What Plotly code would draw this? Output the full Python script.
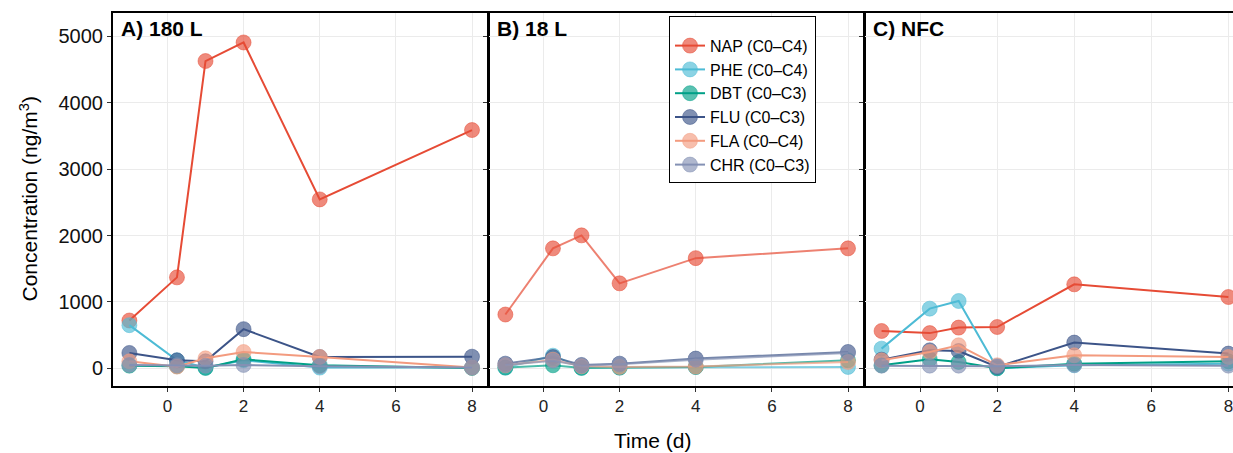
import plotly.graph_objects as go

time = [-1, 0.25, 1, 2, 4, 8]
series = ["NAP (C0–C4)", "PHE (C0–C4)", "DBT (C0–C3)", "FLU (C0–C3)", "FLA (C0–C4)", "CHR (C0–C3)"]
colors = ["#E64B35", "#4DBBD5", "#00A087", "#3C5488", "#F39B7F", "#8491B4"]
panels = ["A) 180 L", "B) 18 L", "C) NFC"]

# panel A (180 L)
a_nap = [720, 1370, 4630, 4910, 2545, 3590]
a_phe = [650, 120, 10, 120, 10, 10]
a_dbt = [40, 30, 5, 135, 45, 5]
a_flu = [231, 120, 105, 590, 170, 175]
a_fla = [105, 25, 150, 245, 170, 10]
a_chr = [50, 45, 40, 50, 30, 10]

# panel B (18 L)
b_nap = [810, 1807, 2003, 1280, 1660, 1807]
b_phe = [10, 190, 10, 10, 20, 20]
b_dbt = [10, 45, 5, 10, 20, 120]
b_flu = [70, 170, 50, 70, 146, 246]
b_fla = [45, 130, 30, 20, 25, 95]
b_chr = [50, 115, 40, 60, 130, 230]

# panel C (NFC)
c_nap = [562, 530, 613, 622, 1265, 1074]
c_phe = [296, 899, 1014, 0, 45, 70]
c_dbt = [45, 136, 95, 0, 70, 105]
c_flu = [130, 271, 260, 20, 387, 221]
c_fla = [120, 246, 346, 45, 196, 170]
c_chr = [40, 40, 40, 30, 50, 40]

data = [
    [a_nap, a_phe, a_dbt, a_flu, a_fla, a_chr],
    [b_nap, b_phe, b_dbt, b_flu, b_fla, b_chr],
    [c_nap, c_phe, c_dbt, c_flu, c_fla, c_chr],
]
line_alpha = [1.0, 0.7, 1.0]


def rgba(hexc, a):
    h = hexc.lstrip("#")
    r, g, b = int(h[0:2], 16), int(h[2:4], 16), int(h[4:6], 16)
    return f"rgba({r},{g},{b},{a})"


fig = go.Figure()
for p in range(3):
    xa = "x" if p == 0 else f"x{p+1}"
    ya = "y" if p == 0 else f"y{p+1}"
    for i, name in enumerate(series):
        fig.add_trace(go.Scatter(
            x=time, y=data[p][i], name=name, legendgroup=name,
            showlegend=(p == 0), mode="lines+markers",
            line=dict(color=rgba(colors[i], line_alpha[p]), width=2),
            marker=dict(size=15, color=rgba(colors[i], 0.65),
                        line=dict(color=rgba(colors[i], 0.5), width=1)),
            xaxis=xa, yaxis=ya, cliponaxis=False if p == 2 else True,
        ))

W = 1233
L = 113
PW = W - L
PH = 453 - 13 - 67
doms = [[0, 375 / PW], [376 / PW, 751 / PW], [752 / PW, 1.0]]
xranges = [[-1.43, 8.42], [-1.43, 8.42], [-1.43, 8.12]]
yrange = [-267, 5354]
font = "Liberation Sans, Arial, Helvetica, sans-serif"

layout = dict(
    width=W, height=453,
    margin=dict(l=L, r=0, t=13, b=67),
    plot_bgcolor="white", paper_bgcolor="white",
    font=dict(family=font, color="black"),
    legend=dict(
        x=(669 - L) / PW, y=1 - 3 / PH, xanchor="left", yanchor="top",
        bordercolor="black", borderwidth=1, bgcolor="white",
        font=dict(size=16, family=font), itemwidth=30,
        title=dict(text=" ", font=dict(size=9)),
        tracegroupgap=0,
    ),
)
for p in range(3):
    sx = "xaxis" if p == 0 else f"xaxis{p+1}"
    sy = "yaxis" if p == 0 else f"yaxis{p+1}"
    ya = "y" if p == 0 else f"y{p+1}"
    xa = "x" if p == 0 else f"x{p+1}"
    layout[sx] = dict(
        domain=doms[p], range=xranges[p], anchor=ya,
        tickvals=[0, 2, 4, 6, 8], ticks="outside", ticklen=4, tickcolor="#333",
        tickfont=dict(size=17, color="#222"), ticklabeloverflow="allow",
        showgrid=True, gridcolor="#EBEBEB", gridwidth=1, zeroline=False,
        showline=True, linecolor="black", linewidth=2, mirror=True,
    )
    layout[sy] = dict(
        domain=[0, 1], range=yrange, anchor=xa,
        tickvals=[0, 1000, 2000, 3000, 4000, 5000], ticks="outside", ticklen=4,
        tickcolor="#333", tickfont=dict(size=20, color="#111"),
        showticklabels=(p == 0),
        showgrid=True, gridcolor="#EBEBEB", gridwidth=1, zeroline=False,
        showline=True, linecolor="black", linewidth=2, mirror=(p != 2),
    )
fig.update_layout(**layout)

for p in range(3):
    x0 = doms[p][0]
    fig.add_annotation(
        text=f"<b>{panels[p]}</b>", xref="paper", yref="paper",
        x=x0 + 6 / PW, y=1 - 15 / PH, xanchor="left", yanchor="middle",
        showarrow=False, font=dict(size=21, family=font, color="black"),
    )

fig.add_annotation(
    text="Concentration (ng/m<sup>3</sup>)", xref="paper", yref="paper",
    x=(28 - L) / PW, y=0.5, xanchor="center", yanchor="middle", textangle=-90,
    showarrow=False, font=dict(size=21, family=font, color="black"),
)
fig.add_annotation(
    text="Time (d)", xref="paper", yref="paper",
    x=(652 - L) / PW, y=-(440 - 386) / PH, xanchor="center", yanchor="middle",
    showarrow=False, font=dict(size=21, family=font, color="black"),
)

fig.write_html(
    "out.html",
    config={"displayModeBar": False},
    post_script="document.body.style.margin='0px';document.body.style.overflow='hidden';",
)
